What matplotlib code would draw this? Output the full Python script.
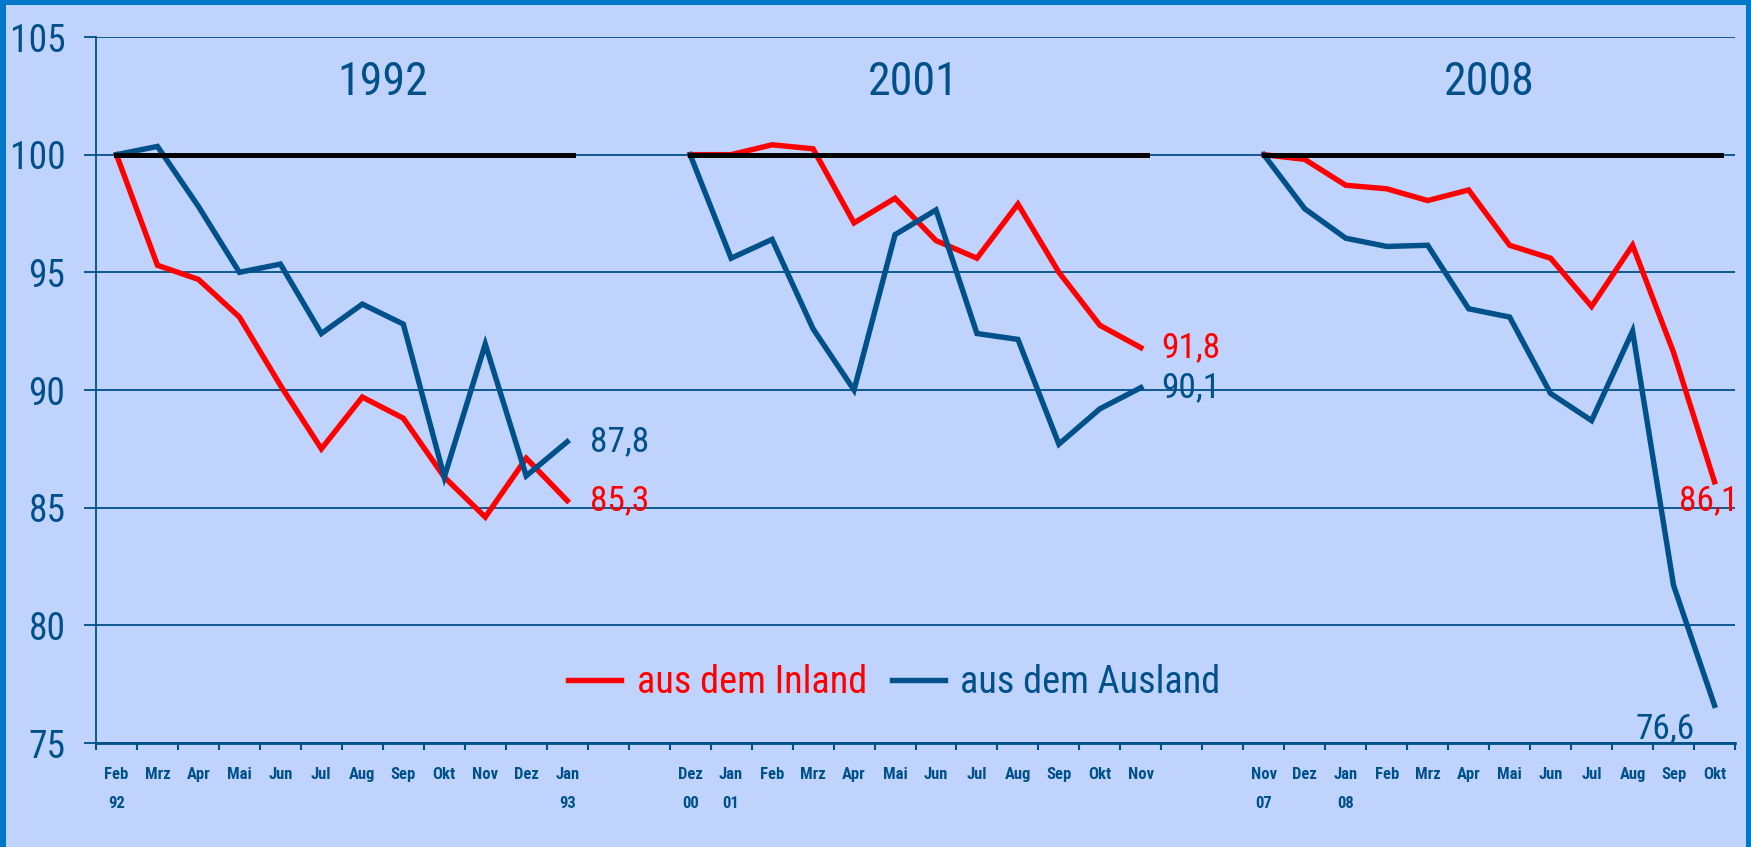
import matplotlib.pyplot as plt
import matplotlib.patches as mpatches
from matplotlib import font_manager as fm
import numpy as np

# schmale Schrift suchen (wie Arial Narrow im Original)
namen = set(f.name for f in fm.fontManager.ttflist)
schrift = 'DejaVu Sans'
breite = 'normal'
for n in ['Liberation Sans Narrow', 'Roboto Condensed', 'Open Sans Condensed', 'Noto Sans Condensed']:
    if n in namen:
        schrift = n
        break
else:
    for f in fm.fontManager.ttflist:
        if f.name == 'DejaVu Sans' and f.stretch == 'condensed':
            breite = 'condensed'
            break
plt.rcParams['font.family'] = [schrift, 'DejaVu Sans']
plt.rcParams['font.stretch'] = breite

# Daten (Index, Ausgangsmonat = 100)
jahre = ["1992", "2001", "2008"]
monate_1992 = ["Feb", "Mrz", "Apr", "Mai", "Jun", "Jul", "Aug", "Sep", "Okt", "Nov", "Dez", "Jan"]
monate_2001 = ["Dez", "Jan", "Feb", "Mrz", "Apr", "Mai", "Jun", "Jul", "Aug", "Sep", "Okt", "Nov"]
monate_2008 = ["Nov", "Dez", "Jan", "Feb", "Mrz", "Apr", "Mai", "Jun", "Jul", "Aug", "Sep", "Okt"]
jahr_1992 = {0: "92", 11: "93"}
jahr_2001 = {0: "00", 1: "01"}
jahr_2008 = {0: "07", 2: "08"}

inland_1992 = [100, 95.3, 94.7, 93.1, 90.2, 87.5, 89.7, 88.8, 86.3, 84.6, 87.1, 85.3]
ausland_1992 = [100, 100.35, 97.8, 95.0, 95.35, 92.4, 93.65, 92.8, 86.3, 91.95, 86.35, 87.8]
inland_2001 = [100, 100, 100.42, 100.25, 97.1, 98.15, 96.35, 95.6, 97.9, 95.0, 92.75, 91.8]
ausland_2001 = [100, 95.6, 96.4, 92.6, 90.0, 96.6, 97.65, 92.4, 92.15, 87.7, 89.2, 90.1]
inland_2008 = [100, 99.8, 98.7, 98.55, 98.05, 98.5, 96.15, 95.6, 93.55, 96.15, 91.6, 86.1]
ausland_2008 = [100, 97.7, 96.45, 96.1, 96.15, 93.45, 93.1, 89.85, 88.7, 92.5, 81.7, 76.6]

inland = [inland_1992, inland_2001, inland_2008]
ausland = [ausland_1992, ausland_2001, ausland_2008]
monate = [monate_1992, monate_2001, monate_2008]
jahrlabels = [jahr_1992, jahr_2001, jahr_2008]
starts = [0, 14, 28]

rot = '#ff0000'
blau = '#00508a'
bg = '#bfd3fd'

fig = plt.figure(figsize=(17.51, 8.47), dpi=100)
fig.patch.set_facecolor(bg)
ax = fig.add_axes([96/1751, 1-743/847, 1639/1751, 706/847])
ax.set_facecolor(bg)

for k in range(3):
    x = np.arange(12) + starts[k]
    l1, = ax.plot(x, inland[k], color=rot, lw=3.9, solid_joinstyle='miter', zorder=3)
    l2, = ax.plot(x, ausland[k], color=blau, lw=3.9, solid_joinstyle='miter', zorder=3)
    ax.plot([x[0], x[-1] + 0.15], [100, 100], color='black', lw=3.6, zorder=4)
    for i, m in enumerate(monate[k]):
        ax.text(x[i], -0.044, m, transform=ax.get_xaxis_transform(), ha='center', va='center',
                fontsize=12, fontweight='bold', color=blau)
    for i, j in jahrlabels[k].items():
        ax.text(x[i], -0.085, j, transform=ax.get_xaxis_transform(), ha='center', va='center',
                fontsize=12, fontweight='bold', color=blau)

titel_x = [6.5, 19.45, 33.5]
for k in range(3):
    ax.text(titel_x[k], 103.1, jahre[k], ha='center', va='center', fontsize=33, color=blau)

# Endwerte
ax.text(11.55, inland_1992[-1], "85,3", color=rot, fontsize=25.5, ha='left', va='center')
ax.text(11.55, ausland_1992[-1], "87,8", color=blau, fontsize=25.5, ha='left', va='center')
ax.text(25.5, inland_2001[-1], "91,8", color=rot, fontsize=25.5, ha='left', va='center')
ax.text(25.5, ausland_2001[-1], "90,1", color=blau, fontsize=25.5, ha='left', va='center')
ax.text(38.85, 85.3, "86,1", color=rot, fontsize=25.5, ha='center', va='center')
ax.text(37.8, 75.6, "76,6", color=blau, fontsize=25.5, ha='center', va='center')

ax.set_xlim(-0.5, 39.5)
ax.set_ylim(75, 105)
ax.set_yticks(range(75, 106, 5))
ax.set_xticks(np.arange(-0.5, 40, 1))
ax.set_xticklabels([])
ax.grid(axis='y', color=blau, lw=1.3)
ax.set_axisbelow(True)
ax.tick_params(axis='y', length=9, width=1.3, color=blau, labelcolor=blau, labelsize=27, pad=13)
ax.tick_params(axis='x', length=5, width=1.5, color=blau, direction='out')
for s in ['top', 'right']:
    ax.spines[s].set_visible(False)
ax.spines['left'].set_color(blau)
ax.spines['left'].set_linewidth(1.3)
ax.spines['bottom'].set_color(blau)
ax.spines['bottom'].set_linewidth(2)

ax.legend([l1, l2], ["aus dem Inland", "aus dem Ausland"], loc='center', bbox_to_anchor=(0.487, 0.085),
          ncol=2, frameon=False, fontsize=27.5, handlelength=1.4, handletextpad=0.4, columnspacing=0.65,
          labelcolor=[rot, blau])

# blauer Rahmen
rahmen = '#0078c8'
fig.add_artist(mpatches.Rectangle((0, 0), 6/1751, 1, transform=fig.transFigure, color=rahmen, lw=0))
fig.add_artist(mpatches.Rectangle((0, 1-5/847), 1, 5/847, transform=fig.transFigure, color=rahmen, lw=0))
fig.add_artist(mpatches.Rectangle((1-5/1751, 0), 5/1751, 1, transform=fig.transFigure, color=rahmen, lw=0))

fig.savefig('out.png', dpi=100, facecolor=bg)
